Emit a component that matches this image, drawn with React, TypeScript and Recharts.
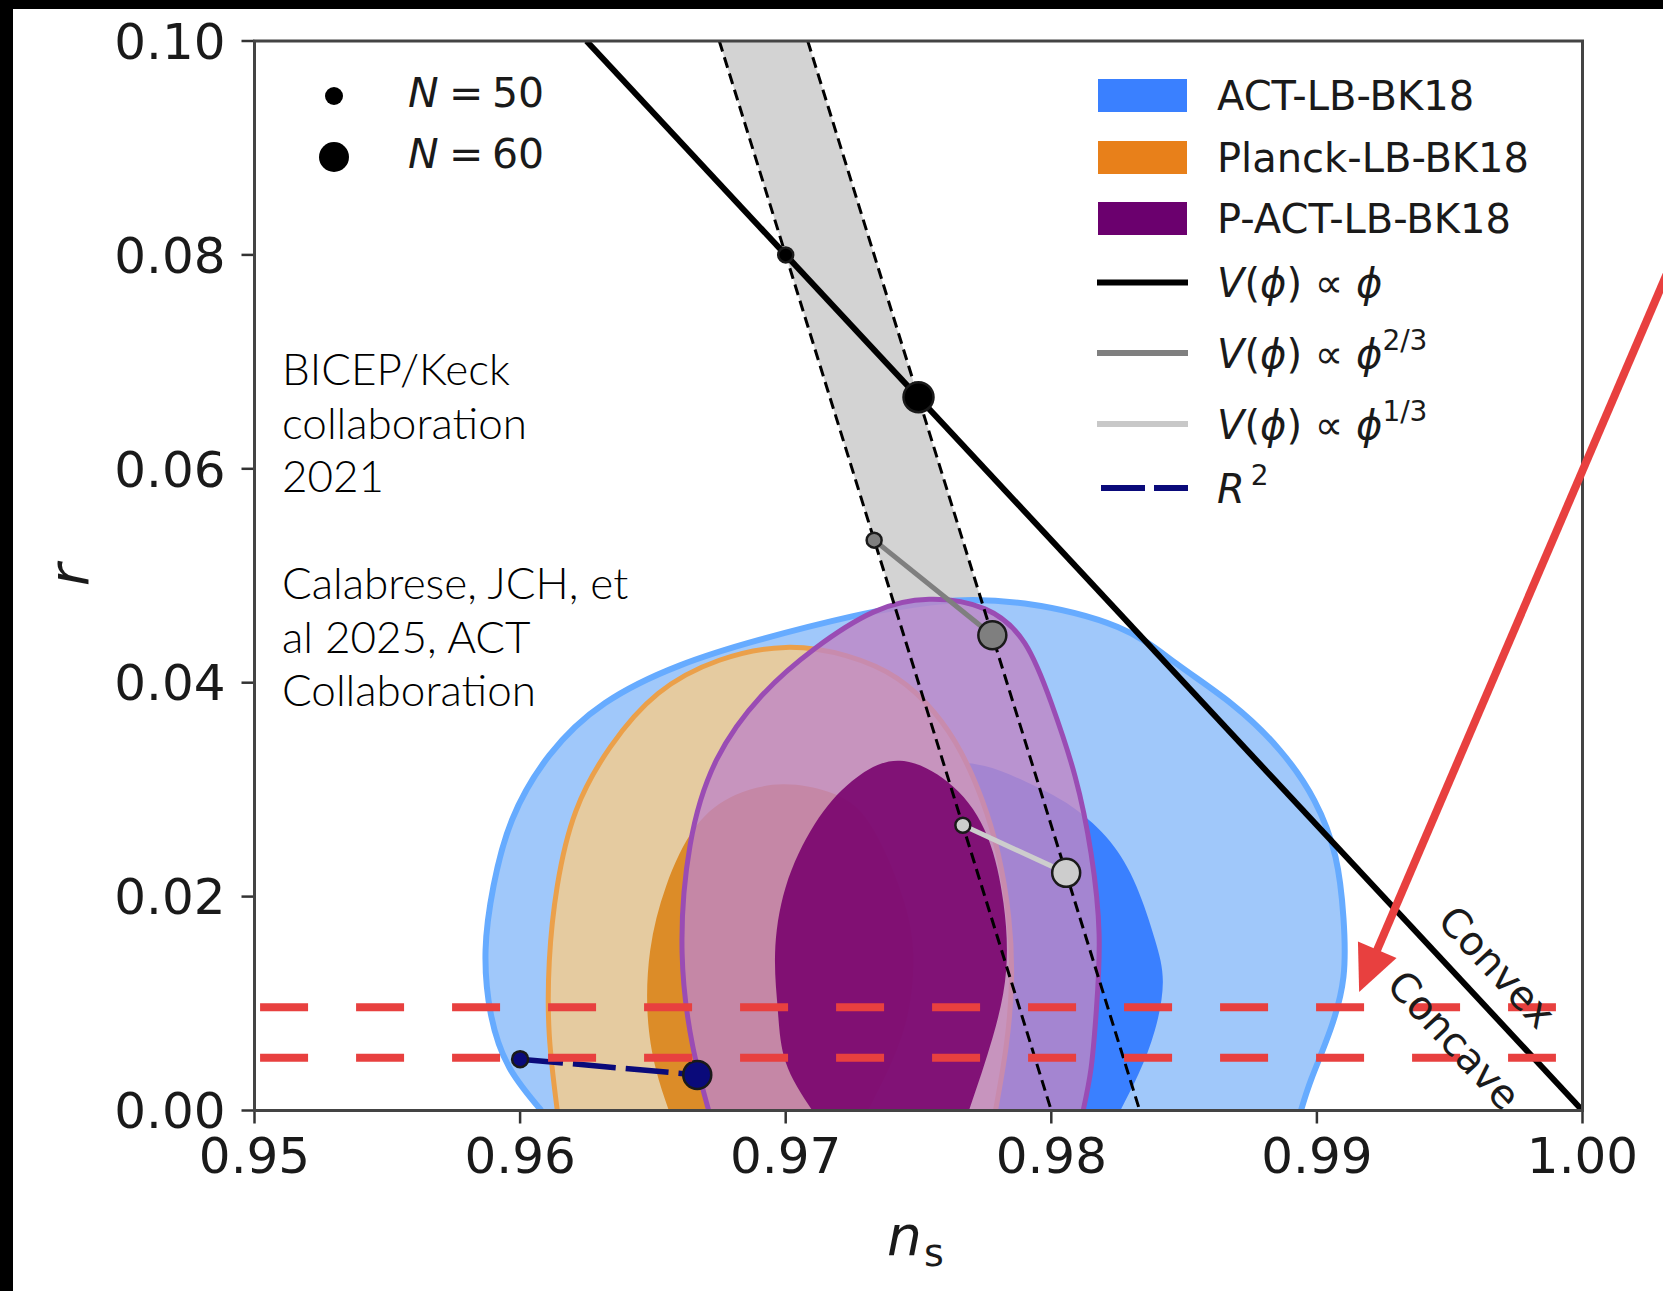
import { ComposedChart, XAxis, YAxis, Scatter, ReferenceLine, ReferenceArea, Curve } from "recharts";

const W = 1663;
const H = 1291;

// axis ticks
const nsTicks = [0.95, 0.96, 0.97, 0.98, 0.99, 1.0];
const rTicks = [0, 0.02, 0.04, 0.06, 0.08, 0.1];

// 2D posterior contours, (n_s, r) traced from the r = 0 edge round to the r = 0 edge
const actOuter: [number, number][] = [
  [0.9608, 0], [0.9596, 0.004], [0.9589, 0.009], [0.9587, 0.015], [0.959, 0.021], [0.9597, 0.0272],
  [0.9611, 0.0332], [0.9632, 0.0381], [0.966, 0.0416], [0.969, 0.044], [0.9725, 0.0462], [0.9758, 0.0476],
  [0.979, 0.0474], [0.9825, 0.0452], [0.9847, 0.0418], [0.9868, 0.038], [0.9886, 0.0337], [0.9899, 0.029],
  [0.9907, 0.0237], [0.991, 0.018], [0.991, 0.0125], [0.9905, 0.0075], [0.9898, 0.003], [0.9894, 0],
];
const actInner: [number, number][] = [
  [0.969, 0], [0.9686, 0.008], [0.9692, 0.016], [0.9708, 0.0235], [0.973, 0.0295], [0.9755, 0.0322],
  [0.9775, 0.0322], [0.9795, 0.0302], [0.9809, 0.0282], [0.9822, 0.0252], [0.9832, 0.021], [0.9839, 0.016],
  [0.9842, 0.012], [0.9839, 0.0075], [0.9833, 0.0035], [0.9826, 0],
];
const planckOuter: [number, number][] = [
  [0.9614, 0], [0.9611, 0.007], [0.9611, 0.014], [0.9614, 0.021], [0.9621, 0.028], [0.9634, 0.034],
  [0.9652, 0.039], [0.9675, 0.0421], [0.97, 0.0433], [0.9723, 0.0425], [0.9742, 0.0404], [0.9756, 0.0372],
  [0.9766, 0.0335], [0.9774, 0.029], [0.978, 0.024], [0.9784, 0.018], [0.9785, 0.012], [0.9783, 0.006],
  [0.9779, 0],
];
const planckInner: [number, number][] = [
  [0.9656, 0], [0.9651, 0.004], [0.9648, 0.009], [0.9649, 0.015], [0.9655, 0.021], [0.9666, 0.0265],
  [0.9681, 0.0295], [0.9699, 0.0305], [0.9716, 0.0298], [0.9728, 0.028], [0.9737, 0.0244], [0.9744, 0.02],
  [0.9748, 0.015], [0.9746, 0.009], [0.9739, 0.004], [0.9731, 0],
];
const pactOuter: [number, number][] = [
  [0.9671, 0], [0.9665, 0.006], [0.9661, 0.0147], [0.9664, 0.0248], [0.9674, 0.0328], [0.9691, 0.0388],
  [0.9711, 0.0432], [0.9733, 0.0466], [0.9754, 0.0478], [0.9775, 0.0469], [0.979, 0.0437], [0.98, 0.0381],
  [0.9809, 0.0312], [0.9815, 0.024], [0.9818, 0.0165], [0.9817, 0.0095], [0.9815, 0.004], [0.9812, 0],
];
const pactInner: [number, number][] = [
  [0.971, 0], [0.97, 0.0045], [0.9697, 0.0095], [0.9696, 0.0147], [0.97, 0.0209], [0.9711, 0.0268],
  [0.9725, 0.0308], [0.9743, 0.0327], [0.9763, 0.0303], [0.9776, 0.0256], [0.9782, 0.0194],
  [0.9783, 0.0131], [0.9778, 0.0069], [0.9769, 0],
];

// N = 50 / N = 60 band for V ~ phi^p
const bandFill: [number, number][] = [[0.9675, 0.1], [0.97083, 0.1], [0.98333, 0], [0.98, 0]];
const bandN50: [number, number][] = [[0.9675, 0.1], [0.98, 0]];
const bandN60: [number, number][] = [[0.97083, 0.1], [0.98333, 0]];

// model predictions (N = 50, N = 60)
const linearLine: [number, number][] = [[0.9625, 0.1], [1.0, 0]];
const phi1: [number, number][] = [[0.97, 0.08], [0.975, 0.0667]];
const phi23: [number, number][] = [[0.97333, 0.05333], [0.97778, 0.04444]];
const phi13: [number, number][] = [[0.97667, 0.02667], [0.98056, 0.02222]];
const starob: [number, number][] = [[0.96, 0.0048], [0.96667, 0.00333]];

// slide overlay: red dashed levels and arrow
const redUpper: [number, number][] = [[0.95021, 0.00965], [0.999, 0.00965]];
const redLower: [number, number][] = [[0.95021, 0.00494], [0.999, 0.00494]];
const arrowFrom = { x: 1.00356, y: 0.08046 };
const arrowTo = { x: 0.99159, y: 0.01108 };

const citations: [string, number][] = [
  ["BICEP/Keck", 385],
  ["collaboration", 438.5],
  ["2021", 492],
  ["Calabrese, JCH, et", 599],
  ["al 2025, ACT", 652.7],
  ["Collaboration", 706],
];

const rows = (a: [number, number][]) => a.map(([ns, r], i) => ({ ns, r, i }));

const RED = "#E8403F";
const FONT = "'DejaVu Sans', sans-serif";

const noDot = () => <g />;

const region = (fill: string, opacity: number, stroke: string, sw: number) => (p: any) => (
  <Curve
    points={p.points}
    type="natural"
    fill={fill}
    fillOpacity={opacity}
    stroke={stroke}
    strokeWidth={sw}
  />
);

const polygon = (fill: string) => (p: any) => <Curve points={p.points} type="linear" fill={fill} stroke="none" />;

const dot = (fill: string, small: number, big: number) => (p: any) => (
  <circle cx={p.cx} cy={p.cy} r={p.payload.i === 0 ? small : big} fill={fill} stroke="#1a1a1a" strokeWidth={2.5} />
);

const arrowShape = (p: any) => {
  const { x1, y1, x2, y2 } = p;
  const len = Math.hypot(x2 - x1, y2 - y1);
  const ux = (x2 - x1) / len;
  const uy = (y2 - y1) / len;
  const bx = x2 - ux * 46;
  const by = y2 - uy * 46;
  return (
    <g>
      <line x1={x1} y1={y1} x2={bx + ux * 4} y2={by + uy * 4} stroke={RED} strokeWidth={8} />
      <polygon
        points={`${x2},${y2} ${bx - uy * 21},${by + ux * 21} ${bx + uy * 21},${by - ux * 21}`}
        fill={RED}
      />
    </g>
  );
};

const fmt = (v: number) => v.toFixed(2);

const sans = { fontFamily: FONT, fill: "#1a1a1a" };
const gill = { fontFamily: "Lato, sans-serif", fontWeight: 300, fontSize: 44, fill: "#000" };

function Legends() {
  const patches = [
    { label: "ACT-LB-BK18", color: "#3A80FF", y: 95.5 },
    { label: "Planck-LB-BK18", color: "#E8801A", y: 157.5 },
    { label: "P-ACT-LB-BK18", color: "#6B006E", y: 218.5 },
  ];
  return (
    <svg width={W} height={H} style={{ position: "absolute", left: 0, top: 0, pointerEvents: "none" }}>
      {/* N markers */}
      <circle cx={334} cy={96} r={9} fill="#000" />
      <circle cx={334} cy={157} r={15} fill="#000" />
      <text y={106.5} fontSize={41} {...sans}>
        <tspan x={408} fontStyle="italic">N</tspan>
        <tspan x={449}>=</tspan>
        <tspan x={492}>50</tspan>
      </text>
      <text y={168} fontSize={41} {...sans}>
        <tspan x={408} fontStyle="italic">N</tspan>
        <tspan x={449}>=</tspan>
        <tspan x={492}>60</tspan>
      </text>

      {/* dataset + model legend */}
      {patches.map((p) => (
        <g key={p.label}>
          <rect x={1098} y={p.y - 16.5} width={89} height={33} fill={p.color} />
          <text x={1217} y={p.y + 14.5} fontSize={40} {...sans}>{p.label}</text>
        </g>
      ))}
      <line x1={1097} x2={1188} y1={282.5} y2={282.5} stroke="#000" strokeWidth={6} />
      <line x1={1097} x2={1188} y1={353} y2={353} stroke="#7F7F7F" strokeWidth={6} />
      <line x1={1097} x2={1188} y1={424} y2={424} stroke="#C8C8C8" strokeWidth={6} />
      <line x1={1101} x2={1188} y1={488} y2={488} stroke="#0A0A7A" strokeWidth={6} strokeDasharray="44 9" />
      <text y={297} fontSize={40} {...sans}>
        <tspan x={1217} fontStyle="italic">V</tspan>
        <tspan>(</tspan>
        <tspan fontStyle="italic">ϕ</tspan>
        <tspan>)  ∝ </tspan>
        <tspan fontStyle="italic">ϕ</tspan>
      </text>
      <text y={367.5} fontSize={40} {...sans}>
        <tspan x={1217} fontStyle="italic">V</tspan>
        <tspan>(</tspan>
        <tspan fontStyle="italic">ϕ</tspan>
        <tspan>)  ∝ </tspan>
        <tspan fontStyle="italic">ϕ</tspan>
        <tspan fontSize={28} dy={-18}>2/3</tspan>
      </text>
      <text y={438.5} fontSize={40} {...sans}>
        <tspan x={1217} fontStyle="italic">V</tspan>
        <tspan>(</tspan>
        <tspan fontStyle="italic">ϕ</tspan>
        <tspan>)  ∝ </tspan>
        <tspan fontStyle="italic">ϕ</tspan>
        <tspan fontSize={28} dy={-18}>1/3</tspan>
      </text>
      <text y={502.5} fontSize={40} {...sans}>
        <tspan x={1217} fontStyle="italic">R</tspan>
        <tspan fontSize={28} dx={6} dy={-18}>2</tspan>
      </text>

      {/* citations */}
      {citations.map(([t, y]) => (
        <text key={t} x={282} y={y} {...gill}>{t}</text>
      ))}

      {/* convex / concave */}
      <text transform="translate(1497 967) rotate(47)" textAnchor="middle" dominantBaseline="central" fontSize={40} {...sans}>
        Convex
      </text>
      <text transform="translate(1454 1040) rotate(47)" textAnchor="middle" dominantBaseline="central" fontSize={40} {...sans}>
        Concave
      </text>

      {/* axis labels */}
      <text x={887} y={1255} fontSize={55} fontStyle="italic" {...sans}>n</text>
      <text x={924} y={1266} fontSize={38} {...sans}>s</text>
      <text transform="translate(88 575) rotate(-90)" textAnchor="middle" fontSize={55} fontStyle="italic" {...sans}>
        r
      </text>
    </svg>
  );
}

export default function App() {
  return (
    <div style={{ position: "absolute", left: 0, top: 0, width: W, height: H, background: "#fff", overflow: "hidden" }}>
      <ComposedChart width={W} height={H} margin={{ top: 41, right: 80.5, bottom: 120.5, left: 0 }}>
        <XAxis
          type="number"
          dataKey="ns"
          domain={[0.95, 1]}
          allowDataOverflow
          ticks={nsTicks}
          interval={0}
          tickFormatter={fmt}
          axisLine={false}
          tickSize={13}
          tickMargin={14}
          height={60}
          tick={{ fontSize: 50, fontFamily: FONT, fill: "#1a1a1a" }}
          tickLine={{ stroke: "#333", strokeWidth: 2.5 }}
        />
        <YAxis
          type="number"
          dataKey="r"
          domain={[0, 0.1]}
          allowDataOverflow
          ticks={rTicks}
          interval={0}
          tickFormatter={fmt}
          axisLine={false}
          tickSize={13}
          tickMargin={16}
          width={254.5}
          tick={{ fontSize: 50, fontFamily: FONT, fill: "#1a1a1a" }}
          tickLine={{ stroke: "#333", strokeWidth: 2.5 }}
        />

        {/* N band */}
        <Scatter data={rows(bandFill)} line={polygon("#D3D3D3")} shape={noDot} isAnimationActive={false} />

        {/* contours */}
        <Scatter data={rows(actOuter)} line={region("#A0C8FA", 1, "#66ABFF", 6)} shape={noDot} isAnimationActive={false} />
        <Scatter data={rows(actInner)} line={region("#3A80FF", 1, "none", 0)} shape={noDot} isAnimationActive={false} />
        <Scatter data={rows(planckOuter)} line={region("#E5CBA0", 1, "#EBA04A", 5)} shape={noDot} isAnimationActive={false} />
        <Scatter data={rows(planckInner)} line={region("#DC8C28", 1, "none", 0)} shape={noDot} isAnimationActive={false} />
        <Scatter data={rows(pactOuter)} line={region("#BF86C6", 0.8, "#9A4CB4", 5)} shape={noDot} isAnimationActive={false} />
        <Scatter data={rows(pactInner)} line={region("#77006C", 0.88, "none", 0)} shape={noDot} isAnimationActive={false} />

        {/* band edges */}
        <Scatter data={rows(bandN50)} line={{ stroke: "#000", strokeWidth: 3, strokeDasharray: "11 6" }} shape={noDot} isAnimationActive={false} />
        <Scatter data={rows(bandN60)} line={{ stroke: "#000", strokeWidth: 3, strokeDasharray: "11 6" }} shape={noDot} isAnimationActive={false} />

        {/* models */}
        <Scatter data={rows(linearLine)} line={{ stroke: "#000", strokeWidth: 6 }} shape={noDot} isAnimationActive={false} />
        <Scatter data={rows(phi1)} shape={dot("#000", 7.5, 15)} isAnimationActive={false} />
        <Scatter data={rows(phi23)} line={{ stroke: "#7F7F7F", strokeWidth: 5 }} shape={dot("#7F7F7F", 7.5, 14)} isAnimationActive={false} />
        <Scatter data={rows(phi13)} line={{ stroke: "#CDCDCD", strokeWidth: 5 }} shape={dot("#CDCDCD", 7.5, 14)} isAnimationActive={false} />
        <Scatter
          data={rows(starob)}
          line={{ stroke: "#0A0A7A", strokeWidth: 5.5, strokeDasharray: "43 10" }}
          shape={dot("#0A0A7A", 8, 14)}
          isAnimationActive={false}
        />

        {/* red dashed levels */}
        <Scatter data={rows(redUpper)} line={{ stroke: RED, strokeWidth: 8, strokeDasharray: "48 48" }} shape={noDot} isAnimationActive={false} />
        <Scatter data={rows(redLower)} line={{ stroke: RED, strokeWidth: 8, strokeDasharray: "48 48" }} shape={noDot} isAnimationActive={false} />

        {/* frame */}
        <ReferenceArea
          x1={0.95}
          x2={1}
          y1={0}
          y2={0.1}
          fill="none"
          fillOpacity={0}
          stroke="#444"
          strokeWidth={3}
          ifOverflow="visible"
          zIndex={2400}
        />
        <ReferenceLine segment={[arrowFrom, arrowTo]} ifOverflow="visible" shape={arrowShape} zIndex={2500} />
      </ComposedChart>
      <Legends />
      <div style={{ position: "absolute", left: 0, top: 0, width: W, height: 9, background: "#000" }} />
      <div style={{ position: "absolute", left: 0, top: 0, width: 13, height: H, background: "#000" }} />
    </div>
  );
}
